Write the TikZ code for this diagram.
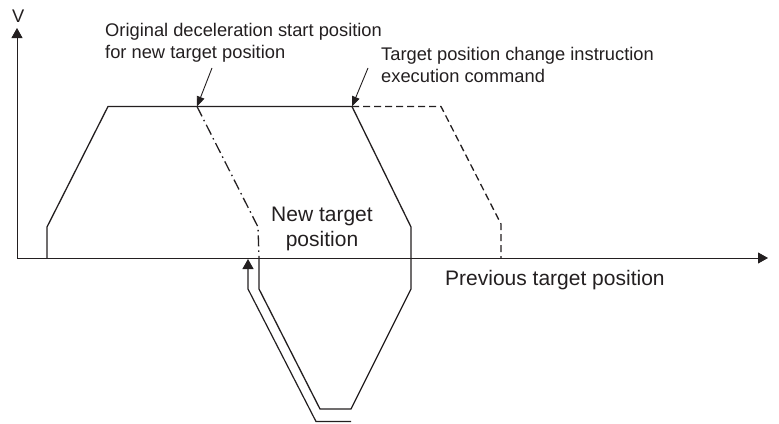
\documentclass[tikz,border=0pt]{standalone}
\usepackage{fontspec}
\setmainfont{Liberation Sans}
\definecolor{ink}{HTML}{231F20}
\usetikzlibrary{arrows.meta}

\begin{document}
\begin{tikzpicture}[x=1pt,y=-1pt,
    ax/.style={-{Triangle[length=10pt,width=11pt]},ink,line width=0.9pt},
    prof/.style={ink,line width=1.3pt,line join=miter},
    pt/.style={-{Triangle[length=10pt,width=8pt]},ink,line width=0.9pt},
    lbs/.style={inner sep=0pt,text=ink,font=\fontsize{18.3}{22}\selectfont,align=left},
    lbb/.style={inner sep=0pt,text=ink,font=\fontsize{21}{25}\selectfont},
  ]
    \useasboundingbox (0,0) rectangle (779,423);
    \coordinate (o) at (17,258);
    \coordinate (ytop) at (17,28);
    \coordinate (xend) at (768,258);
    \coordinate (dec) at (197,106.5);
    \coordinate (chg) at (352,106.5);
    \coordinate (ret) at (248,259);
    \draw[ax](o)--(ytop);
    \draw[ax](o)--(xend);
    \node[lbs,anchor=base west](v) at (12,22.7) {V};
    % motion profile
    \draw[prof](47,258)--(47,227)--(108,106.5)--(chg)--(411,227)--(411,289)
      --(351,409)--(320,409)--(259,289)--(259,258);
    \draw[prof,dash pattern=on 11pt off 4pt on 1.5pt off 4pt](dec)--(258,227)--(259,258);
    \draw[prof,dash pattern=on 7pt off 4pt](chg)--(441,106.5)--(501,224)--(501,258);
    \draw[prof,-{Triangle[length=10pt,width=11pt]},line width=1.2pt]
      (351,421.5)--(316,421.5)--(248,289)--(ret);
    \node[lbs,anchor=north west](orig) at (105,23.2)
      {Original deceleration start position\\for new target position};
    \node[lbs,anchor=north west](cmd) at (381,47.5)
      {Target position change instruction\\execution command};
    \node[lbb,anchor=north,align=center](newt) at (322,206.5) {New target\\position};
    \node[lbb,anchor=base west](prev) at (445,285.7) {Previous target position};
    \coordinate (p1) at (212,68);
    \coordinate (p2) at (368,68);
    \draw[pt](p1)--(dec);\draw[pt](p2)--(chg);
  \end{tikzpicture}
\end{document}
